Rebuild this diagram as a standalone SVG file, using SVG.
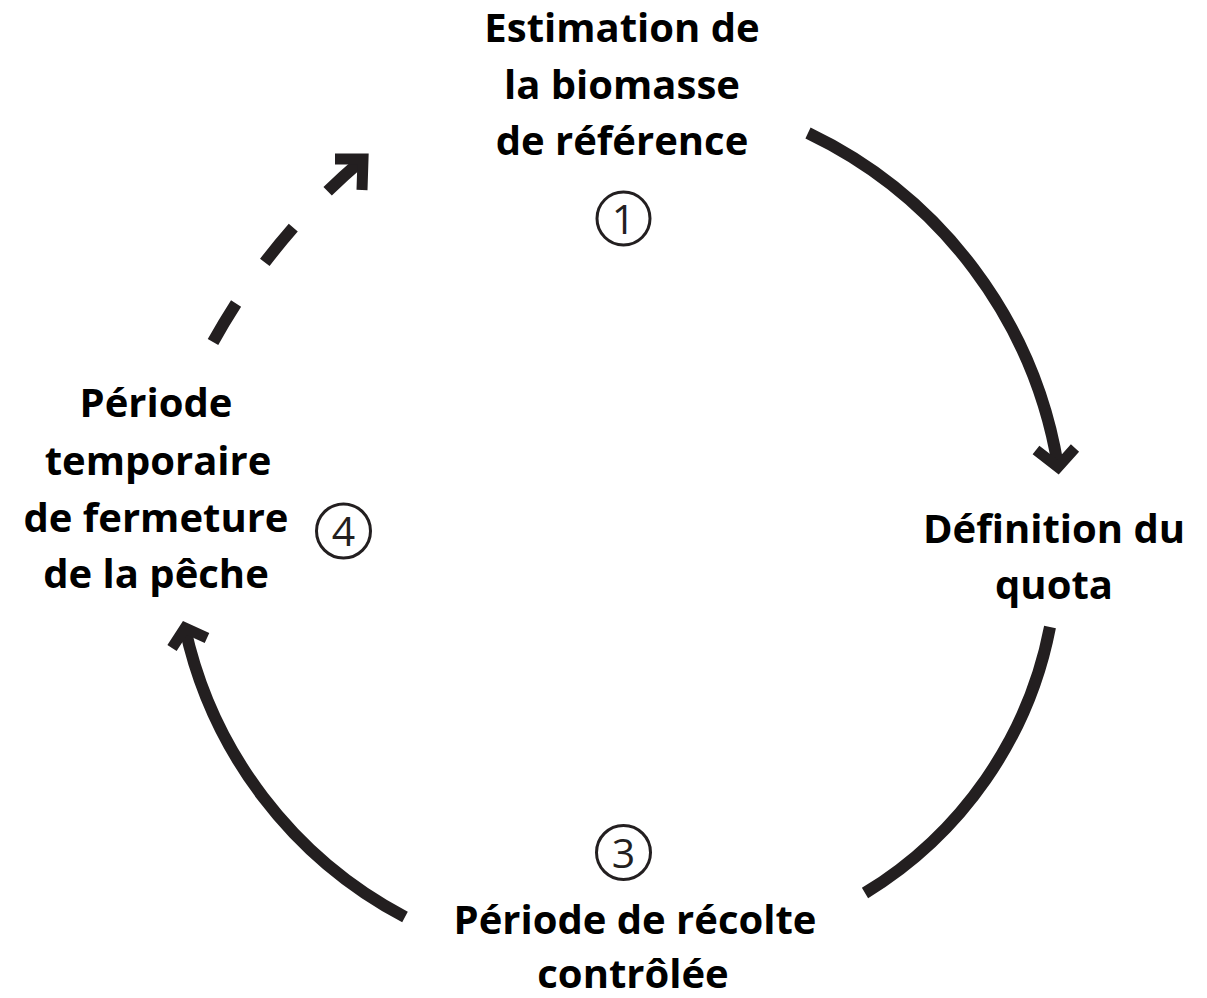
<svg xmlns="http://www.w3.org/2000/svg" width="1207" height="998" viewBox="0 0 1207 998">
<style>
.lbl{font-family:"Open Sans","Liberation Sans",sans-serif;font-weight:700;font-size:40px;fill:#000;text-anchor:middle}
.arc{fill:none;stroke:#231f20;stroke-width:12;stroke-linecap:butt}
.head{fill:none;stroke:#231f20;stroke-width:11;stroke-linejoin:miter;stroke-miterlimit:10}
.ring{fill:none;stroke:#231f20;stroke-width:3}
.num{font-family:"Open Sans","Liberation Sans",sans-serif;font-weight:400;font-size:41px;fill:#231f20;text-anchor:middle}
</style>
<rect width="1207" height="998" fill="#fff"/>
<g id="connectors">
<path class="arc" d="M808,133 A450,450 0 0 1 1058,466"/>
<path class="head" d="M1036,450 L1058,467 L1075,448"/>
<path class="arc" d="M1050,627 A400,400 0 0 1 865,893"/>
<path class="arc" d="M405,917 A430,430 0 0 1 185,628"/>
<path class="head" d="M172,648 L185,628 L207,638"/>
<path class="arc" d="M213,342 A650,650 0 0 1 362,160" stroke-dasharray="45 50"/>
<path class="head" d="M335,159 L363,159 L362,190"/>
</g>
<g id="node1">
<text class="lbl" x="622" y="42">Estimation de</text>
<text class="lbl" x="622" y="98.5">la biomasse</text>
<text class="lbl" x="622" y="155">de référence</text>
<circle class="ring" cx="623.5" cy="218.5" r="26.5"/>
<text class="num" x="623.5" y="233.5">1</text>
</g>
<g id="node2">
<text class="lbl" x="1054" y="543">Définition du</text>
<text class="lbl" x="1054" y="599">quota</text>
</g>
<g id="node3">
<circle class="ring" cx="623.5" cy="852.5" r="27"/>
<text class="num" x="623.5" y="867.5">3</text>
<text class="lbl" x="635" y="934">Période de récolte</text>
<text class="lbl" x="633" y="988">contrôlée</text>
</g>
<g id="node4">
<text class="lbl" x="156" y="417">Période</text>
<text class="lbl" x="158" y="475">temporaire</text>
<text class="lbl" x="156" y="532">de fermeture</text>
<text class="lbl" x="156" y="588">de la pêche</text>
<circle class="ring" cx="343.5" cy="531" r="27"/>
<text class="num" x="343.5" y="546">4</text>
</g>
</svg>
